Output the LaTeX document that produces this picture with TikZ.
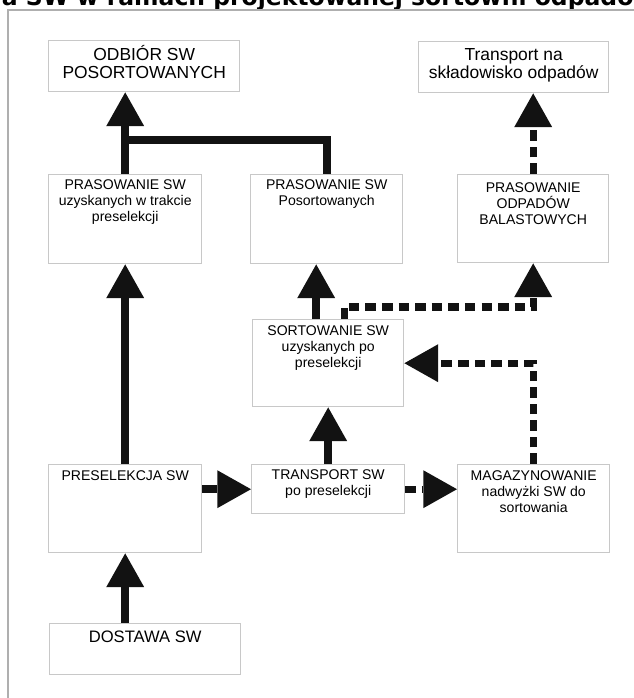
\documentclass[tikz,border=0pt]{standalone}
\usepackage{fontspec}
\setmainfont{Liberation Sans}
\newfontfamily\titlefont{DejaVu Sans}
\usetikzlibrary{arrows.meta,calc}
\definecolor{boxgray}{RGB}{200,200,200}
\definecolor{framegray}{RGB}{175,175,175}
\definecolor{arrowblack}{RGB}{18,18,18}
\newlength\pxu
\setlength\pxu{0.25mm}
% box text: width, height, first baseline, lines (all in px)
\newcommand{\boxtext}[4]{\parbox[c][#2\pxu][t]{#1\pxu}{\centering\rule{0pt}{#3\pxu}#4}}

\begin{document}
\begin{tikzpicture}[x=0.25mm,y=-0.25mm,
    box/.style={draw=boxgray,line width=1pt,inner sep=0pt,anchor=north west},
    big/.style={font=\fontsize{12.4}{13}\selectfont},
    small/.style={font=\fontsize{10}{11.3}\selectfont},
    flow/.style={draw=arrowblack,line width=5.7pt,-{Triangle[length=24pt,width=27pt,line width=0pt]}},
    dflow/.style={flow,line width=5pt,dash pattern=on 7.5pt off 4.3pt},
    link/.style={draw=arrowblack,line width=5.7pt}]
  \clip (0,0) rectangle (634,698);
  \node[anchor=base west,font=\titlefont\bfseries\fontsize{16.7}{18}\selectfont] (title) at (-3,5) {a SW w ramach projektowanej sortowni odpadów};
  \draw[framegray,line width=0.8pt] (8,698) -- (8,10) -- (634,10);

  \node[box,big]   (odbior)  at (48,40)   {\boxtext{191}{51}{20}{ODBIÓR SW\\POSORTOWANYCH}};
  \node[box,big]   (skladow) at (418,41)  {\boxtext{190}{51}{19}{Transport na\\składowisko odpadów}};
  \node[box,small] (prasPre) at (48,174)  {\boxtext{153}{89}{15}{PRASOWANIE SW\\uzyskanych w trakcie\\preselekcji}};
  \node[box,small] (prasPos) at (250,174) {\boxtext{152}{89}{15}{PRASOWANIE SW\\Posortowanych}};
  \node[box,small] (prasBal) at (457,174) {\boxtext{151}{88}{18}{PRASOWANIE\\ODPADÓW\\BALASTOWYCH}};
  \node[box,small] (sort)    at (252,319) {\boxtext{151}{87}{16}{SORTOWANIE SW\\uzyskanych po\\preselekcji}};
  \node[box,small] (presel)  at (48,464)  {\boxtext{153}{88}{16}{PRESELEKCJA SW}};
  \node[box,small] (transp)  at (251,464) {\boxtext{153}{49}{15}{TRANSPORT SW\\po preselekcji}};
  \node[box,small] (magaz)   at (457,464) {\boxtext{152}{88}{16}{MAGAZYNOWANIE\\nadwyżki SW do\\sortowania}};
  \node[box,font=\fontsize{11.8}{14}\selectfont] (dostawa) at (49,623) {\boxtext{191}{51}{19}{DOSTAWA SW}};

  \coordinate (join)    at ($(prasPre.north)+(0,-34)$);
  \coordinate (sortUp)  at ($(sort.north)+(-12,0)$);
  \coordinate (sortBal) at ($(sort.north)+(16,0)$);

  \draw[flow] (presel.south |- dostawa.north) -- (presel.south);
  \draw[flow] (presel.north) -- (prasPre.south);
  \draw[flow] (prasPre.north) -- (prasPre.north |- odbior.south);
  \draw[link] (prasPos.north) |- (join);
  \draw[flow] (presel.east |- transp.west) -- (transp.west);
  \draw[flow] (transp.north) -- (sort.south);
  \draw[flow] (sortUp) -- (sortUp |- prasPos.south);
  \draw[dflow] (sortBal) -- ++(0,-12) -| (prasBal.south);
  \draw[dflow] (transp.east) -- (transp.east -| magaz.west);
  \draw[dflow] (magaz.north) |- (sort.east);
  \draw[dflow] (prasBal.north) -- (prasBal.north |- skladow.south);
\end{tikzpicture}
\end{document}
